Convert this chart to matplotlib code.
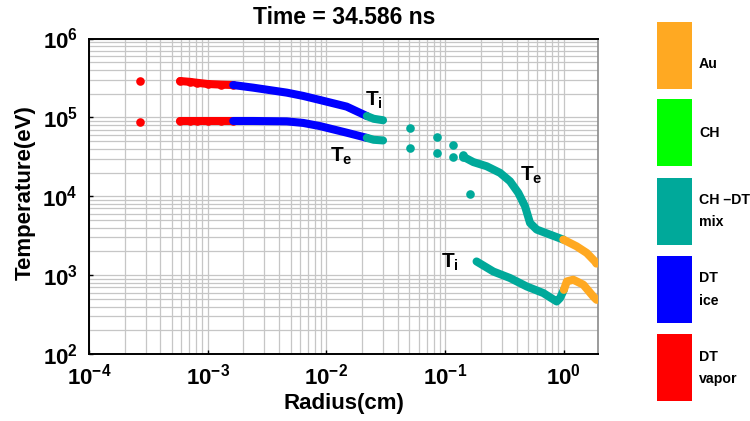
import numpy as np
import matplotlib
matplotlib.use("Agg")
import matplotlib.pyplot as plt
from matplotlib.patches import Rectangle

plt.rcParams['font.family'] = ['Liberation Sans', 'DejaVu Sans']
plt.rcParams['mathtext.fontset'] = 'custom'
plt.rcParams['mathtext.rm'] = 'Liberation Sans'
plt.rcParams['mathtext.bf'] = 'Liberation Sans:bold'
plt.rcParams['mathtext.it'] = 'Liberation Sans:italic'

# ---- data (radius in cm, temperature in eV) ----
# DT vapor
vapor_r = [2.69e-4, 5.85e-4, 7.1e-4, 8.07e-4, 1.0e-3, 1.3e-3, 1.64e-3]
vapor_ti = [2.89e5, 2.89e5, 2.82e5, 2.75e5, 2.65e5, 2.6e5, 2.57e5]
vapor_te = [8.7e4, 9.0e4, 9.0e4, 9.0e4, 9.0e4, 9.0e4, 9.0e4]

# DT ice
ice_r = [1.64e-3, 2.42e-3, 4.63e-3, 6.38e-3, 8.83e-3, 0.0148, 0.0219]
ice_ti = [2.57e5, 2.38e5, 2.06e5, 1.87e5, 1.66e5, 1.37e5, 1.04e5]
ice_te = [9.0e4, 9.0e4, 8.9e4, 8.5e4, 7.75e4, 6.4e4, 5.5e4]

# CH-DT mix, inner piece
mix_r = [0.0219, 0.025, 0.030]
mix_ti = [1.04e5, 9.6e4, 9.2e4]
mix_te = [5.5e4, 5.2e4, 5.1e4]

# CH-DT mix, isolated zones
dot_ti_r = [0.0506, 0.0859, 0.117, 0.142, 0.162]
dot_ti = [7.25e4, 5.6e4, 4.45e4, 3.32e4, 1.07e4]
dot_te_r = [0.0506, 0.0859, 0.117]
dot_te = [4.04e4, 3.56e4, 3.13e4]

# CH-DT mix, outer piece
mix_te_r = [0.142, 0.173, 0.224, 0.290, 0.352, 0.414, 0.471, 0.519, 0.591, 0.766, 0.99]
mix_te2 = [3.17e4, 2.71e4, 2.40e4, 1.98e4, 1.55e4, 1.10e4, 7.46e3, 4.59e3, 3.78e3, 3.26e3, 2.82e3]
mix_ti_r = [0.184, 0.255, 0.352, 0.487, 0.671, 0.871, 0.929, 1.0]
mix_ti2 = [1.49e3, 1.11e3, 919, 718, 593, 463, 512, 650]

# Au
au_te_r = [0.99, 1.28, 1.56, 1.83, 1.88]
au_te = [2.82e3, 2.32e3, 1.91e3, 1.49e3, 1.4e3]
au_ti_r = [1.0, 1.06, 1.2, 1.46, 1.77, 1.89]
au_ti = [650, 832, 875, 756, 536, 486]

materials = ['Au', 'CH', 'CH \u2013DT\nmix', 'DT\nice', 'DT\nvapor']
mat_colors = ['#FFA922', '#00FF00', '#00A99A', '#0000FF', '#FF0000']
c_au, c_ch, c_mix, c_ice, c_vap = mat_colors

x_ticks = [1e-4, 1e-3, 1e-2, 1e-1, 1e0]
x_ticklabels = [r'$\mathbf{10^{-4}}$', r'$\mathbf{10^{-3}}$', r'$\mathbf{10^{-2}}$',
                r'$\mathbf{10^{-1}}$', r'$\mathbf{10^{0}}$']
y_ticks = [1e2, 1e3, 1e4, 1e5, 1e6]
y_ticklabels = [r'$\mathbf{10^{2}}$', r'$\mathbf{10^{3}}$', r'$\mathbf{10^{4}}$',
                r'$\mathbf{10^{5}}$', r'$\mathbf{10^{6}}$']

LW = 5.8
MS = 6.2


def seg(ax, x, y, color):
    ax.plot(x, y, '-', color=color, lw=LW, solid_capstyle='round',
            solid_joinstyle='round', zorder=3)


def dots(ax, x, y, color):
    ax.plot(x, y, 'o', color=color, ms=MS, mec='none', zorder=3)


fig = plt.figure(figsize=(7.5, 4.21), dpi=100)
ax = fig.add_axes([89 / 750, 1 - 354 / 421, (598 - 89) / 750, (354 - 38.5) / 421])
ax.set_xscale('log')
ax.set_yscale('log')
ax.set_xlim(1e-4, 1.94)
ax.set_ylim(1e2, 1e6)

ax.grid(True, which='both', color='#c6c6c6', lw=0.9)
ax.set_axisbelow(True)

# vapor
dots(ax, vapor_r, vapor_ti, c_vap)
dots(ax, vapor_r, vapor_te, c_vap)
seg(ax, vapor_r[1:], vapor_ti[1:], c_vap)
seg(ax, vapor_r[1:], vapor_te[1:], c_vap)
# ice
seg(ax, ice_r, ice_ti, c_ice)
seg(ax, ice_r, ice_te, c_ice)
# mix
seg(ax, mix_r, mix_ti, c_mix)
seg(ax, mix_r, mix_te, c_mix)
dots(ax, dot_ti_r, dot_ti, c_mix)
dots(ax, dot_te_r, dot_te, c_mix)
seg(ax, mix_te_r, mix_te2, c_mix)
dots(ax, mix_te_r[:1], mix_te2[:1], c_mix)
seg(ax, mix_ti_r, mix_ti2, c_mix)
# Au
seg(ax, au_te_r, au_te, c_au)
seg(ax, au_ti_r, au_ti, c_au)

lab = dict(fontsize=15, ha='left', va='center', zorder=4)
ax.text(0.0211, 1.64e5, r'$\mathbf{T}_{\mathbf{i}}$', **lab)
ax.text(0.0107, 3.19e4, r'$\mathbf{T}_{\mathbf{e}}$', **lab)
ax.text(0.428, 1.83e4, r'$\mathbf{T}_{\mathbf{e}}$', **lab)
ax.text(0.0925, 1.44e3, r'$\mathbf{T}_{\mathbf{i}}$', **lab)

ax.set_xticks(x_ticks)
ax.set_xticklabels(x_ticklabels)
ax.set_yticks(y_ticks)
ax.set_yticklabels(y_ticklabels)
ax.tick_params(which='major', direction='in', length=3, width=1, labelsize=16, pad=7)
ax.tick_params(axis='y', pad=8)
ax.tick_params(which='minor', length=0)
ax.xaxis.set_minor_formatter(matplotlib.ticker.NullFormatter())
ax.yaxis.set_minor_formatter(matplotlib.ticker.NullFormatter())

for s in ['left', 'bottom', 'top']:
    ax.spines[s].set_linewidth(1.4)
    ax.spines[s].set_color('black')
ax.spines['right'].set_color('#8a8a8a')
ax.spines['right'].set_linewidth(1.2)

fig.text(344 / 750, 1 - 18 / 421, 'Time = 34.586 ns', ha='center', va='center',
         fontsize=16.5, fontweight='bold')
fig.text(344 / 750, 1 - 404 / 421, 'Radius(cm)', ha='center', va='center',
         fontsize=16, fontweight='bold')
fig.text(25 / 750, 1 - 193 / 421, 'Temperature(eV)', ha='center', va='center',
         fontsize=16, fontweight='bold', rotation=90)

# material colour key on the right
key = fig.add_axes([0, 0, 1, 1])
key.set_xlim(0, 750)
key.set_ylim(421, 0)
key.axis('off')
key.patch.set_alpha(0)
box_top = [21.7, 99.3, 177.7, 256.0, 334.3]
box_h = 67
for top, name, col in zip(box_top, materials, mat_colors):
    key.add_patch(Rectangle((656.7, top), 35, box_h, facecolor=col, edgecolor='none'))
    key.text(699, top + box_h / 2 + (9 if name == 'Au' else 0), name,
             ha='left', va='center', fontsize=10.2, fontweight='bold',
             linespacing=1.75)

fig.savefig('out.png', dpi=100)
